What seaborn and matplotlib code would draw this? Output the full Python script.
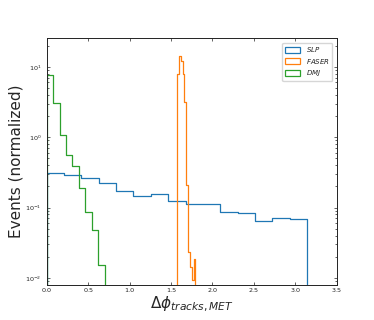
import numpy as np
import pandas as pd
import matplotlib
matplotlib.use("Agg")
import matplotlib.pyplot as plt
from matplotlib.patches import Patch
import seaborn as sns

# ---- data ----
slp_edges_start, slp_width = 0.0, np.pi / 15
slp_vals = [0.310, 0.288, 0.267, 0.226, 0.171, 0.145, 0.155, 0.124,
            0.114, 0.114, 0.0867, 0.0838, 0.0653, 0.0721, 0.0697]

faser_start, faser_width = 1.574, 0.0222
faser_vals = [8.0, 14.3, 12.0, 8.0, 3.12, 0.207, 0.0234, 0.0141, 0.0095, 0.0184]

dmj_start, dmj_width = 0.0, 0.0775
dmj_vals = [7.6, 3.05, 1.09, 0.566, 0.393, 0.19, 0.0877, 0.048, 0.0155]

labels = ["$SLP$", "$FASER$", "$DMJ$"]
colors = ["#1f77b4", "#ff7f0e", "#2ca02c"]
x_ticks = [0.0, 0.5, 1.0, 1.5, 2.0, 2.5, 3.0, 3.5]

sns.set_style("ticks")
plt.rcParams['font.family'] = ['DejaVu Sans']

fig = plt.figure(figsize=(3.74, 3.2), dpi=100)
ax = fig.add_axes([0.125, 0.11, 0.775, 0.77])


def draw(start, width, vals, color):
    n = len(vals)
    edges = start + width * np.arange(-1, n + 2)
    centers = (edges[:-1] + edges[1:]) / 2
    df = pd.DataFrame({"x": centers, "w": [0.0] + list(vals) + [0.0]})
    sns.histplot(data=df, x="x", weights="w", bins=edges.tolist(), element="step",
                 fill=False, color=color, linewidth=0.9, ax=ax)


draw(slp_edges_start, slp_width, slp_vals, colors[0])
draw(faser_start, faser_width, faser_vals, colors[1])
draw(dmj_start, dmj_width, dmj_vals, colors[2])

ax.set_yscale("log")
ax.set_xlim(0, 3.5)
ax.set_ylim(0.008, 25.3)
ax.set_xticks(x_ticks)
ax.set_xticklabels([f"{t:.1f}" for t in x_ticks])

ax.tick_params(which="both", direction="in", top=True, right=True,
               labelsize=4.6, pad=2.5, colors="#222222", width=0.5)
ax.tick_params(which="major", length=2.5)
ax.tick_params(which="minor", length=1.3)
ax.tick_params(axis="y", pad=4)
for s in ax.spines.values():
    s.set_linewidth(0.7)
    s.set_color("#222222")

ax.set_xlabel(r"$\Delta\phi_{tracks, MET}$", fontsize=11, labelpad=1)
ax.set_ylabel("Events (normalized)", fontsize=11, labelpad=1)

handles = [Patch(facecolor="none", edgecolor=c, linewidth=0.9) for c in colors]
ax.legend(handles, labels, loc="upper right", fontsize=5, frameon=True,
          borderaxespad=0.6, handlelength=2.2, handleheight=0.9,
          labelspacing=0.35)

fig.savefig("out.png", dpi=100)
